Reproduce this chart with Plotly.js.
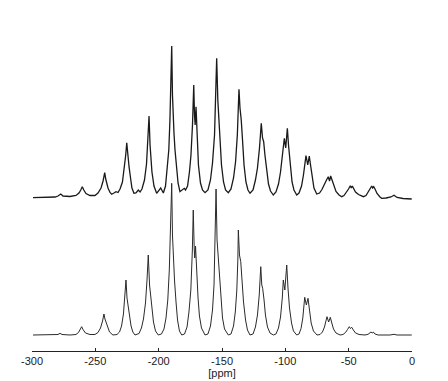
<!DOCTYPE html>
<html>
<head>
<meta charset="utf-8">
<script src="https://cdn.plot.ly/plotly-3.0.1.min.js"></script>
<style>html,body{margin:0;padding:0;background:#fff;}#chart{width:448px;height:381px;}</style>
</head>
<body>
<div id="chart"></div>
<script>
// Experimental spectrum (upper trace): chemical shift [ppm] and intensity (arb. units)
var expPpm = [-299.2,-289.7,-281.8,-279.5,-277.3,-275.5,-270.0,-265.3,-262.9,-261.5,-260.3,-259.1,-257.4,-254.2,-250.3,
  -247.9,-245.5,-243.9,-242.6,-241.8,-241.2,-240.0,-238.4,-237.1,-235.3,-233.7,-232.1,
  -230.5,-228.6,-227.0,-226.0,-225.2,-224.4,-223.4,-222.2,-221.1,-219.5,-217.9,-216.1,-214.7,
  -213.2,-211.2,-209.6,-208.4,-207.6,-206.8,-206.3,-205.3,-203.7,-201.6,-198.4,-196.3,
  -194.6,-193.2,-192.0,-191.1,-190.3,-189.7,-189.1,-188.4,-187.9,-187.1,-185.9,-184.7,-183.2,-181.6,-179.8,-178.8,
  -177.2,-175.7,-174.5,-173.3,-172.3,-171.7,-171.2,-170.5,-169.7,-168.6,-167.0,-165.4,-163.4,
  -161.1,-159.1,-157.5,-155.9,-154.9,-154.2,-153.3,-152.4,-151.6,-150.4,-148.8,-147.2,-145.0,
  -142.9,-140.9,-139.3,-137.9,-137.2,-136.6,-135.8,-134.8,-133.8,-132.6,-131.1,-129.5,-127.9,
  -125.5,-123.6,-122.0,-120.4,-119.6,-119.0,-118.0,-117.1,-116.1,-114.9,-113.3,-111.7,-109.5,
  -107.4,-105.4,-103.8,-102.2,-100.8,-99.7,-98.4,-97.5,-96.3,-94.7,-93.2,-91.0,
  -89.2,-87.2,-85.7,-84.5,-83.7,-82.3,-81.1,-80.1,-78.9,-77.4,-75.2,
  -73.0,-71.1,-69.1,-67.5,-66.1,-65.1,-64.2,-63.2,-62.0,-60.0,-57.6,-55.5,
  -53.7,-51.7,-50.1,-48.7,-47.9,-47.1,-46.2,-44.6,-42.2,-38.4,
  -36.3,-34.7,-33.2,-31.8,-31.0,-30.2,-29.2,-27.6,-25.3,-23.9,
  -20.5,-16.6,-14.2,-11.8,-7.1,-0.2];
var expInt = [0.3,0.5,1,2,4,2,1.5,2.5,5,8,11.3,8,4.5,2.5,2.5,
  5,10,17,25.3,19,16,10,5.5,3.7,5,6.3,5.5,
  9,16,30,43,55.3,40,31.3,20,10,4.7,5,8,6,
  9,18,34,58,82,53,39.7,26,12,4.7,10,5,
  12,28,48,78,118,152,103,73,64.7,48,28,15,6.3,8,9.7,8,
  12,26,43,73,113,83,73,91.3,63,33,15,8,5.3,
  8,18,35,63,103,139.7,98,78,58,33,16,8,5.3,
  9,20,36,63,88,108.7,90,78,58,33,16,8,4.7,
  8,18,30,50,63,74.7,60,56.3,43,28,14,7,3,
  6,14,26,43,59.7,50,69.7,53,33,16,8,3,
  5,12,23,35,42.3,33,42,33,20,10,4,
  5,8.5,13,18,21.3,17,22,18,12,6.5,3,1.3,
  2.5,5.5,9,12.3,10,12,9.5,6,3.5,1.3,
  2.5,5.5,9.5,12,10,11.3,9,4.5,1,-0.3,
  0,1,2.7,0.5,-0.5,-1];

// Simulated spectrum (lower trace)
var simPpm = [-299.2,-281.8,-279.5,-277.9,-276.3,-270.0,-265.3,
  -263.3,-261.9,-260.8,-259.7,-257.8,-254.2,-250.3,
  -247.9,-245.9,-244.3,-243.2,-242.4,-241.6,-240.4,-238.8,-236.1,-232.9,
  -230.9,-229.3,-227.8,-226.6,-225.8,-225.0,-224.0,-223.0,-221.8,-220.4,-218.7,
  -215.5,-213.6,-212.0,-210.4,-209.2,-208.2,-207.2,-206.3,-205.3,-204.1,-202.5,-200.3,
  -197.8,-195.8,-194.2,-192.8,-191.6,-190.7,-189.7,-189.1,-188.4,-187.5,-186.3,-185.1,-183.6,-181.8,
  -179.6,-177.6,-176.1,-174.6,-173.4,-172.7,-171.9,-171.5,-170.9,-170.1,-168.9,-167.8,-166.2,-163.4,
  -161.1,-159.1,-157.5,-156.3,-155.4,-154.7,-153.9,-152.9,-152.0,-150.8,-149.6,-148.0,-145.0,
  -142.9,-140.9,-139.5,-138.3,-137.5,-137.1,-136.2,-135.2,-134.2,-133.0,-131.4,-129.9,-127.9,
  -125.5,-123.6,-122.0,-120.6,-119.4,-118.6,-117.9,-116.8,-115.7,-114.1,-112.1,-109.5,
  -107.4,-105.4,-103.8,-102.4,-101.6,-100.4,-98.9,-97.9,-96.7,-95.1,-93.6,-91.0,
  -89.2,-87.6,-86.2,-84.7,-83.4,-82.1,-80.9,-79.6,-77.8,-75.0,
  -72.6,-70.7,-69.1,-67.1,-65.8,-64.5,-63.3,-62.0,-60.0,-56.8,
  -54.5,-52.5,-50.9,-49.5,-48.6,-47.6,-46.3,-44.6,-41.8,
  -37.1,-34.7,-32.4,-31.4,-30.6,-29.2,-26.8,
  -17.4,-14.2,-11.8,-0.2];
var simInt = [0,0,0.5,1.7,0.5,0,0.5,
  2.5,5.5,8.3,5.5,2,0.5,0.5,
  2.5,7,14,21,16,13.3,8,3,0,0.5,
  3,9,21,38,55,37,28.3,18,9,3,0,
  1.5,7,16,32,55,80,50,38.3,25,13,4,0,
  1,6,17,35,65,110,151.7,100,71.7,55,33,15,4,0,
  1,8,23,45,85,125,85,77,89,63,37,19,7,0,
  1,9,25,50,95,146,95,75,55,33,17,6,0,
  1,9,23,45,75,105,80,73.3,55,33,15,5,0,
  1,8,20,40,68.3,50,46.7,35,20,8,2,0,
  1,7,18,37,55,45,70,47,27,12,4,0,
  1,6.5,17,37.7,30,36.7,23,12,4,0,
  0.5,3,8,18.3,13,17.7,12,6,2,0,
  0.5,2.5,5.5,8.3,6.5,7.7,5,2,0.5,
  0,0.7,3,2,3,1,0,
  0,0.7,0,0];

var xTicks = [-300,-250,-200,-150,-100,-50,0];

var traces = [
  {x: simPpm, y: simInt, type: 'scatter', mode: 'lines', xaxis: 'x', yaxis: 'y',
   line: {color: '#2a2a2a', width: 1}, hoverinfo: 'skip'},
  {x: expPpm, y: expInt, type: 'scatter', mode: 'lines', xaxis: 'x', yaxis: 'y2',
   line: {color: '#1a1a1a', width: 1.3}, hoverinfo: 'skip'}
];

var layout = {
  width: 448, height: 381,
  margin: {l: 32, r: 36, t: 20, b: 30},
  paper_bgcolor: '#ffffff', plot_bgcolor: '#ffffff',
  showlegend: false,
  font: {family: 'Liberation Sans, Arial, sans-serif', color: '#1a1a1a', size: 11},
  xaxis: {
    range: [-300, 0], tickvals: xTicks, ticktext: xTicks.map(String),
    ticks: 'inside', ticklen: 3, tickwidth: 1, tickcolor: '#222',
    showline: true, linecolor: '#222', linewidth: 1,
    showgrid: false, zeroline: false,
    tickfont: {size: 11, color: '#1a1a1a'},
    title: {text: '[ppm]', font: {size: 11, color: '#1a1a1a'}, standoff: 1},
    automargin: false
  },
  yaxis: {range: [-16, 315], visible: false, showgrid: false, zeroline: false, fixedrange: true},
  yaxis2: {range: [-153, 178], overlaying: 'y', visible: false, showgrid: false, zeroline: false}
};

Plotly.newPlot('chart', traces, layout, {staticPlot: true, displayModeBar: false});
</script>
</body>
</html>
